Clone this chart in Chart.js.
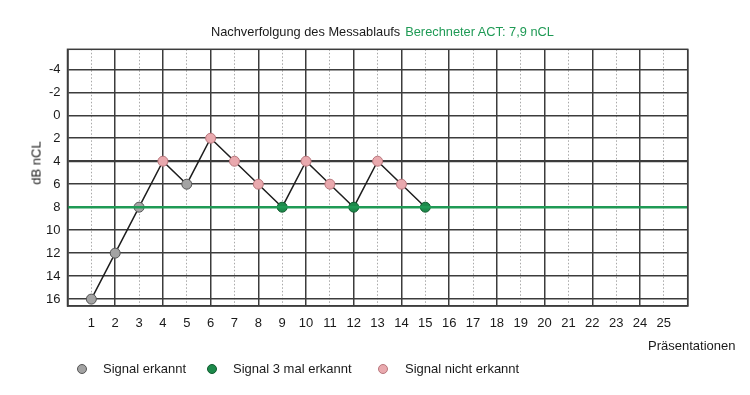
<!DOCTYPE html>
<html>
<head>
<meta charset="utf-8">
<script src="https://cdn.jsdelivr.net/npm/chart.js@4.4.1/dist/chart.umd.min.js"></script>
<style>
  html, body { margin:0; padding:0; background:#fff; }
  #wrap { position:relative; width:750px; height:395px; overflow:hidden; font-family:"Liberation Sans", Arial, sans-serif; color:#1a1a1a; }
  #c { position:absolute; left:0; top:0; }
  .txt { position:absolute; white-space:nowrap; font-size:13px; line-height:13px; }
  #title { left:211px; top:25px; font-size:12.8px; }
  #title .g { color:#1f9a55; margin-left:5px; }
  #ylab { left:36px; top:163px; transform:translate(-50%,-50%) rotate(-90deg); color:#1a1a1a; }
  #xlab { left:648px; top:339px; }
  .leg { position:absolute; top:362px; font-size:13px; line-height:13px; white-space:nowrap; }
  .dot { position:absolute; width:10px; height:10px; border-radius:50%; box-sizing:border-box; }
</style>
</head>
<body>
<div id="wrap">
  <canvas id="c" width="750" height="395"></canvas>
  <div class="txt" id="title"><span>Nachverfolgung des Messablaufs</span><span class="g">Berechneter ACT: 7,9 nCL</span></div>
  <div class="txt" id="ylab">dB nCL</div>
  <div class="txt" id="xlab">Präsentationen</div>
  <div id="legend"></div>
</div>
<script>
// ---- data ----
const presentations = [1, 2, 3, 4, 5, 6, 7, 8, 9, 10, 11, 12, 13, 14, 15];
const levels        = [16, 12, 8, 4, 6, 2, 4, 6, 8, 4, 6, 8, 4, 6, 8];
// e = Signal erkannt, d = Signal 3 mal erkannt, n = Signal nicht erkannt
const status        = ['e','e','e','n','e','n','n','n','d','n','n','d','n','n','d'];
const actLevel = 8;
const xTickValues = [0,1,2,3,4,5,6,7,8,9,10,11,12,13,14,15,16,17,18,19,20,21,22,23,24,25,26];
const yTickValues = [-4, -2, 0, 2, 4, 6, 8, 10, 12, 14, 16];
const legendLabels = ['Signal erkannt', 'Signal 3 mal erkannt', 'Signal nicht erkannt'];

const fillColors   = { e:'#a3a3a3', d:'#1d8a4b', n:'#e9a9ae' };
const borderColors = { e:'#555555', d:'#0f5a2e', n:'#b8767c' };

// HTML legend
const legX = [77, 207, 378];
const legTextX = [103, 233, 405];
const keys = ['e','d','n'];
const legend = document.getElementById('legend');
keys.forEach((k, i) => {
  const d = document.createElement('div');
  d.className = 'dot';
  d.style.left = legX[i] + 'px';
  d.style.top = '364px';
  d.style.background = fillColors[k];
  d.style.border = '1px solid ' + borderColors[k];
  legend.appendChild(d);
  const t = document.createElement('div');
  t.className = 'leg';
  t.style.left = legTextX[i] + 'px';
  t.textContent = legendLabels[i];
  legend.appendChild(t);
});

const dark = '#3c3c3c';

const frame = {
  id: 'frame',
  afterDraw(chart) {
    const a = chart.chartArea, ctx = chart.ctx;
    ctx.save();
    ctx.strokeStyle = dark;
    ctx.lineWidth = 1.5;
    ctx.strokeRect(a.left, a.top, a.right - a.left, a.bottom - a.top);
    ctx.restore();
  }
};

new Chart(document.getElementById('c'), {
  type: 'line',
  data: {
    datasets: [
      {
        label: 'ACT',
        data: [{x: 0, y: actLevel}, {x: 26, y: actLevel}],
        borderColor: '#1f9a55',
        borderWidth: 2.5,
        pointRadius: 0,
        pointHoverRadius: 0
      },
      {
        label: 'Messablauf',
        data: presentations.map((p, i) => ({x: p, y: levels[i]})),
        borderColor: '#1e1e1e',
        borderWidth: 1.5,
        pointRadius: 5,
        pointHoverRadius: 5,
        pointBorderWidth: 1,
        pointBackgroundColor: status.map(s => fillColors[s]),
        pointBorderColor: status.map(s => borderColors[s]),
        tension: 0
      }
    ]
  },
  options: {
    responsive: false,
    animation: false,
    devicePixelRatio: 1,
    layout: { padding: { left: 0, right: 62.3, top: 49.3, bottom: 0 } },
    plugins: { legend: { display: false }, title: { display: false }, tooltip: { enabled: false } },
    scales: {
      x: {
        type: 'linear',
        min: 0, max: 26,
        afterBuildTicks: s => { s.ticks = xTickValues.map(v => ({value: v})); },
        afterFit: s => { s.height = 89; },
        ticks: {
          padding: 10,
          autoSkip: false,
          maxRotation: 0,
          color: '#1a1a1a',
          font: { family: '"Liberation Sans", Arial, sans-serif', size: 13 },
          callback: v => (v >= 1 && v <= 25) ? String(v) : ''
        },
        grid: {
          drawTicks: false,
          color: c => (c.tick && c.tick.value % 2 === 1) ? '#a8a8a8' : dark,
          lineWidth: c => (c.tick && c.tick.value % 2 === 1) ? 1 : 1.5
        },
        border: {
          display: true, color: dark, width: 1.5,
          dash: c => (c.tick && c.tick.value % 2 === 1) ? [1.5, 2] : []
        }
      },
      y: {
        type: 'linear',
        reverse: true,
        min: -5.74, max: 16.6,
        afterBuildTicks: s => { s.ticks = yTickValues.map(v => ({value: v})); },
        afterFit: s => { s.width = 67.5; },
        ticks: {
          padding: 7,
          color: '#1a1a1a',
          font: { family: '"Liberation Sans", Arial, sans-serif', size: 13 },
          callback: v => String(v)
        },
        grid: {
          drawTicks: false,
          color: dark,
          lineWidth: c => (c.tick && c.tick.value === 4) ? 2.2 : 1.5
        },
        border: { display: true, color: dark, width: 1.5 }
      }
    }
  },
  plugins: [frame]
});
</script>
</body>
</html>
